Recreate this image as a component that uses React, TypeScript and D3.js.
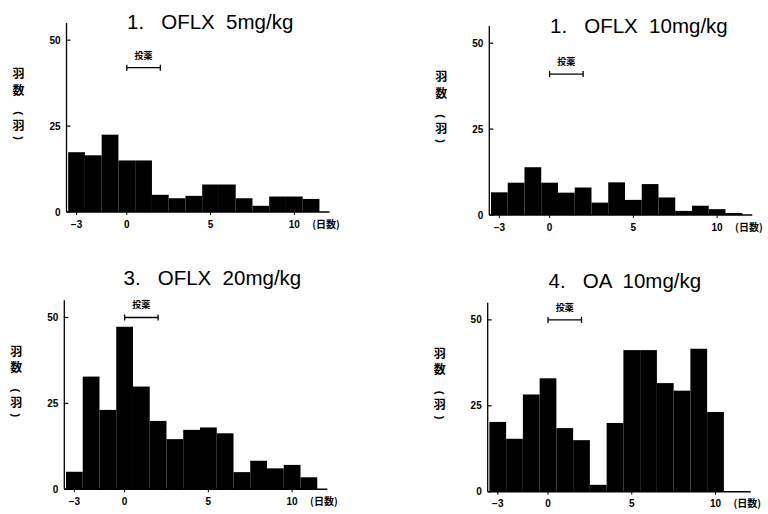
import React from 'react'
import * as d3 from 'd3'

// days after medication, bins of 1 day centred on each integer
const days = [-3, -2, -1, 0, 1, 2, 3, 4, 5, 6, 7, 8, 9, 10, 11]

// birds per day (羽)
const oflx5 = [17.4, 16.5, 22.5, 15, 15, 5, 4, 4.7, 8, 8, 4, 1.8, 4.5, 4.5, 3.8]
const oflx10 = [6.6, 9.4, 13.9, 9.4, 6.5, 8, 3.6, 9.5, 4.4, 9, 5.1, 1.2, 2.7, 1.7, 0.6]
const oflx20 = [5.1, 32.8, 23.1, 47.3, 29.9, 19.9, 14.6, 17.3, 18, 16.3, 5, 8.3, 6.1, 7.1, 3.5]
const oa10 = [20.3, 15.4, 28.3, 33, 18.5, 15, 2, 20, 41.2, 41.2, 31.6, 29.4, 41.6, 23.2, 0]

const titles = ['1.   OFLX  5mg/kg', '1.   OFLX  10mg/kg', '3.   OFLX  20mg/kg', '4.   OA  10mg/kg']
const doseBarLevel = [42, 41, 50, 50]
const doseStart = 0
const doseEnd = 2

const xTicks = [-3, 0, 5, 10]
const yTicks = [0, 25, 50]
// vertical label 羽数(羽); brackets are rotated to read top-down
const yLabelChars = ['羽', '数', '(', '羽', ')']
const yLabelOffsets = [0, 16.5, 39, 51.5, 64]

const series = [oflx5, oflx10, oflx20, oa10]

// where each little chart sits on the page
const panels = [
  { left: 66.5, base: 212, titleX: 127, titleY: 28.5 },
  { left: 489.3, base: 215, titleX: 550, titleY: 32.5 },
  { left: 64.3, base: 489.3, titleX: 123.5, titleY: 285 },
  { left: 487.7, base: 491.7, titleX: 548.5, titleY: 288 }
]

const plotW = 263
const plotH = 189
const numFont = '"Liberation Sans", Arial, sans-serif'
const cjkFont = '"Noto Sans CJK JP", sans-serif'

function Panel ({ values, title, doseY, pos }: { values: number[], title: string, doseY: number, pos: typeof panels[0] }) {
  const x = d3.scaleLinear().domain([-3.6, 12.1]).range([0, plotW])
  const y = d3.scaleLinear().domain([0, 55]).range([0, -plotH])

  return (
    <g>
      <text x={pos.titleX} y={pos.titleY} fontFamily={numFont} fontSize={20.5} style={{ whiteSpace: 'pre' }}>{title}</text>
      <g transform={`translate(${pos.left},${pos.base})`}>
        {days.map((d, i) => values[i] > 0 && (
          <rect key={d} x={x(d - 0.5)} y={y(values[i])} width={x(d + 0.5) - x(d - 0.5)} height={-y(values[i])} fill='#000' />
        ))}
        {/* axes */}
        <line x1={0} x2={0} y1={0} y2={y(55)} stroke='#000' strokeWidth={1.3} />
        <line x1={0} x2={plotW} y1={0} y2={0} stroke='#000' strokeWidth={1.5} />
        {yTicks.map(t => (
          <g key={t}>
            <line x1={0} x2={4} y1={y(t)} y2={y(t)} stroke='#000' strokeWidth={1.2} />
            <text x={-6} y={y(t)} dy='0.35em' textAnchor='end' fontFamily={numFont} fontWeight='bold' fontSize={10}>{t}</text>
          </g>
        ))}
        {xTicks.map(t => (
          <g key={t}>
            <line x1={x(t)} x2={x(t)} y1={0} y2={3} stroke='#000' strokeWidth={1} />
            <text x={x(t)} y={12} dy='0.35em' textAnchor='middle' fontFamily={numFont} fontWeight='bold' fontSize={10}>{t < 0 ? '−' + Math.abs(t) : t}</text>
          </g>
        ))}
        <text x={x(10) + 18} y={12} dy='0.35em' fontFamily={cjkFont} fontWeight='bold' fontSize={10}>(日数)</text>
        {/* dosing period */}
        <g stroke='#000' strokeWidth={1.3}>
          <line x1={x(doseStart)} x2={x(doseEnd)} y1={y(doseY)} y2={y(doseY)} />
          <line x1={x(doseStart)} x2={x(doseStart)} y1={y(doseY) - 3} y2={y(doseY) + 3} />
          <line x1={x(doseEnd)} x2={x(doseEnd)} y1={y(doseY) - 3} y2={y(doseY) + 3} />
        </g>
        <text x={x((doseStart + doseEnd) / 2)} y={y(doseY) - 9} textAnchor='middle' fontFamily={cjkFont} fontWeight='bold' fontSize={9}>投薬</text>
        {/* vertical y label */}
        {yLabelChars.map((c, i) => {
          const cy = -138 + yLabelOffsets[i]
          const bracket = c === '(' || c === ')'
          return (
            <text key={i} x={-48} y={cy} dy='0.35em' textAnchor='middle' fontFamily={bracket ? numFont : cjkFont}
              fontWeight='bold' fontSize={bracket ? 11 : 12} transform={bracket ? `rotate(90,-48,${cy})` : undefined}>{c}</text>
          )
        })}
      </g>
    </g>
  )
}

export default function App () {
  return (
    <svg width={768} height={514} style={{ position: 'absolute', left: 0, top: 0, background: '#fff' }}>
      <rect width={768} height={514} fill='#fff' />
      {series.map((s, i) => (
        <Panel key={i} values={s} title={titles[i]} doseY={doseBarLevel[i]} pos={panels[i]} />
      ))}
    </svg>
  )
}
